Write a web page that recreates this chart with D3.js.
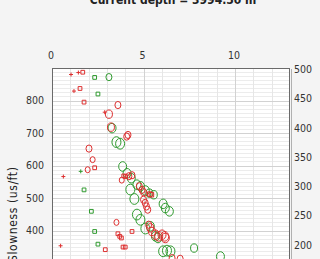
<!DOCTYPE html>
<html>
<head>
<meta charset="utf-8">
<script src="https://cdn.jsdelivr.net/npm/d3@7"></script>
<style>
  html, body { margin: 0; padding: 0; background: #f4f4f4; overflow: hidden; }
  svg { display: block; font-family: "DejaVu Sans Condensed", "DejaVu Sans", sans-serif; }
</style>
</head>
<body>
<svg id="chart"></svg>
<script>
// Data
const titleText = "Current depth = 3994.50 m";
const yLabel = "Slowness (us/ft)";
const xTicks = [0, 5, 10];
const leftTicks = [400, 500, 600, 700, 800];
const rightTicks = [200, 250, 300, 350, 400, 450, 500];

// red series: x, slowness, marker, size
const redX     = [1.04, 1.44, 1.68, 1.20, 1.53, 1.75, 3.60, 2.88, 3.11, 3.22, 4.15, 4.08, 2.02, 2.22, 1.95, 2.33, 0.62, 3.92, 4.02, 3.81, 4.20, 4.37, 4.77, 4.92, 5.00, 5.34, 5.43, 5.00, 5.09, 5.16, 5.23, 3.52, 3.60, 3.70, 3.79, 4.37, 5.28, 5.37, 5.46, 5.65, 5.83, 6.01, 6.16, 6.19, 0.47, 2.91, 3.88, 4.00, 6.56, 7.00];
const redSlow  = [880, 886, 887, 829, 837, 795, 786, 764, 758, 718, 694, 689, 652, 618, 587, 593, 566, 568, 566, 555, 567, 570, 536, 525, 518, 512, 510, 495, 485, 474, 464, 425, 390, 382, 377, 397, 418, 408, 397, 387, 382, 387, 382, 377, 353, 341, 349, 349, 315, 313];
const redShape = ["p", "p", "s", "p", "s", "s", "c", "p", "c", "c", "c", "c", "c", "c", "c", "s", "p", "s", "s", "c", "c", "c", "c", "c", "c", "s", "s", "c", "c", "c", "c", "c", "s", "s", "s", "s", "c", "c", "c", "c", "c", "c", "c", "c", "p", "s", "s", "s", "c", "c"];
const redSize  = [2, 2, 2.5, 2, 2.5, 2.5, 3, 2, 3.5, 3.5, 3, 3, 3, 2.5, 2.5, 2.5, 2, 2.5, 2.5, 2.5, 3, 3, 3, 3, 3, 3, 3, 3, 3, 3, 3, 2.5, 2.5, 2.5, 2.5, 2.5, 3, 3.5, 3.5, 4, 4, 4, 4, 4, 2, 2.5, 2.5, 2.5, 3, 3];

// green series
const greenX     = [2.33, 3.11, 2.51, 3.28, 3.52, 3.72, 3.86, 1.57, 4.10, 4.33, 4.28, 4.50, 4.64, 4.83, 5.10, 5.32, 5.56, 1.75, 6.07, 6.19, 6.41, 2.15, 4.64, 4.83, 5.10, 5.37, 2.33, 5.65, 5.79, 2.51, 7.76, 6.07, 6.28, 6.47, 9.20];
const greenSlow  = [871, 872, 820, 715, 672, 667, 597, 582, 576, 561, 526, 497, 541, 536, 523, 515, 510, 525, 482, 469, 459, 459, 449, 433, 406, 413, 397, 382, 377, 358, 346, 336, 338, 336, 320];
const greenShape = ["s", "c", "s", "c", "c", "c", "c", "p", "c", "c", "c", "c", "c", "c", "c", "c", "c", "s", "c", "c", "c", "s", "c", "c", "c", "c", "s", "c", "c", "s", "c", "c", "c", "c", "c"];
const greenSize  = [2.5, 3, 2.5, 4, 4.5, 4.5, 4, 2, 4, 4, 4.5, 4.5, 4, 4, 4, 3.5, 3.5, 2.5, 4, 4, 4, 2.5, 4.5, 4.5, 4.5, 4, 2.5, 4, 4, 2.5, 3.5, 4.5, 4.5, 4.5, 4];

const width = 320, height = 259;
const margin = {top: 68, left: 52, right: 30};
const innerWidth = width - margin.left - margin.right;
const innerHeight = 292.5; // plot runs below the window

const svg = d3.select("#chart")
  .attr("width", width)
  .attr("height", height);

const x = d3.scaleLinear([0, 13], [0, innerWidth]);
const y = d3.scaleLinear([0, 900], [innerHeight, 0]);
const yRight = d3.scaleLinear([0, 500], [innerHeight, 0]);

// title (mostly off the top)
svg.append("text")
  .attr("x", 173)
  .attr("y", 4)
  .attr("text-anchor", "middle")
  .attr("font-weight", "bold")
  .attr("font-size", 12)
  .attr("fill", "#222")
  .text(titleText);

const g = svg.append("g")
  .attr("transform", `translate(${margin.left},${margin.top})`);

g.append("rect")
  .attr("width", innerWidth)
  .attr("height", innerHeight)
  .attr("fill", "#fff");

// minor grid
const minorY = d3.range(0, 900.1, 12.5).filter(v => v % 100 !== 0);
g.append("g").selectAll("line")
  .data(minorY)
  .join("line")
  .attr("x1", 0).attr("x2", innerWidth)
  .attr("y1", d => Math.round(y(d)) + 0.5).attr("y2", d => Math.round(y(d)) + 0.5)
  .attr("stroke", "#ececec");

g.append("g").selectAll("line")
  .data(d3.range(1, 13).filter(v => v % 5 !== 0))
  .join("line")
  .attr("x1", d => Math.round(x(d)) + 0.5).attr("x2", d => Math.round(x(d)) + 0.5)
  .attr("y1", 0).attr("y2", innerHeight)
  .attr("stroke", "#e6e6e6");

// major grid
g.append("g").selectAll("line")
  .data(d3.range(100, 900, 100))
  .join("line")
  .attr("x1", 0).attr("x2", innerWidth)
  .attr("y1", d => Math.round(y(d)) + 0.5).attr("y2", d => Math.round(y(d)) + 0.5)
  .attr("stroke", "#d2d2d2");

g.append("g").selectAll("line")
  .data([5, 10])
  .join("line")
  .attr("x1", d => Math.round(x(d)) + 0.5).attr("x2", d => Math.round(x(d)) + 0.5)
  .attr("y1", 0).attr("y2", innerHeight)
  .attr("stroke", "#d2d2d2");

// markers
function drawSeries(xs, ys, shapes, sizes, color) {
  const pts = xs.map((v, i) => ({x: v, y: ys[i], shape: shapes[i], r: sizes[i]}));
  const layer = g.append("g")
    .attr("fill", "none")
    .attr("stroke", color)
    .attr("stroke-width", 1);

  layer.selectAll("ellipse")
    .data(pts.filter(d => d.shape === "c"))
    .join("ellipse")
    .attr("cx", d => x(d.x))
    .attr("cy", d => y(d.y))
    .attr("rx", d => d.r)
    .attr("ry", d => d.r * 1.2);

  layer.selectAll("path.sq")
    .data(pts.filter(d => d.shape === "s"))
    .join("path")
    .attr("class", "sq")
    .attr("transform", d => `translate(${x(d.x)},${y(d.y)})`)
    .attr("d", d => d3.symbol(d3.symbolSquare, (d.r * 1.5) ** 2)());

  layer.selectAll("path.pl")
    .data(pts.filter(d => d.shape === "p"))
    .join("path")
    .attr("class", "pl")
    .attr("transform", d => `translate(${x(d.x)},${y(d.y)})`)
    .attr("d", d => `M${-d.r},0H${d.r}M0,${-d.r}V${d.r}`);
}

drawSeries(greenX, greenSlow, greenShape, greenSize, "#2f9a2f");
drawSeries(redX, redSlow, redShape, redSize, "#dd2f2f");

// frame
g.append("rect")
  .attr("x", 0.5).attr("y", 0.5)
  .attr("width", innerWidth - 1)
  .attr("height", innerHeight)
  .attr("fill", "none")
  .attr("stroke", "#6a6a6a");

g.append("line")
  .attr("x1", innerWidth + 1.5).attr("x2", innerWidth + 1.5)
  .attr("y1", 1).attr("y2", innerHeight)
  .attr("stroke", "#b0b0b0");

// axes
const axisColor = "#333";
const topAxis = g.append("g")
  .call(d3.axisTop(x).tickValues(xTicks).tickSize(0).tickPadding(9));
const leftAxis = g.append("g")
  .call(d3.axisLeft(y).tickValues(leftTicks).tickSize(0).tickPadding(8));
const rightAxis = g.append("g")
  .attr("transform", `translate(${innerWidth},0)`)
  .call(d3.axisRight(yRight).tickValues(rightTicks).tickSize(0).tickPadding(4));

[topAxis, leftAxis, rightAxis].forEach(a => {
  a.select(".domain").remove();
  a.selectAll("text")
    .attr("font-family", "'DejaVu Sans Condensed', 'DejaVu Sans', sans-serif")
    .attr("font-size", 10.5)
    .attr("fill", axisColor);
});
topAxis.selectAll("text").attr("dx", -1.5);
rightAxis.selectAll("text").attr("dy", "0.45em");

// y label
svg.append("text")
  .attr("transform", `translate(17,${margin.top + innerHeight / 2}) rotate(-90)`)
  .attr("text-anchor", "middle")
  .attr("font-size", 12)
  .attr("letter-spacing", 0.6)
  .attr("fill", "#222")
  .text(yLabel);
</script>
</body>
</html>
